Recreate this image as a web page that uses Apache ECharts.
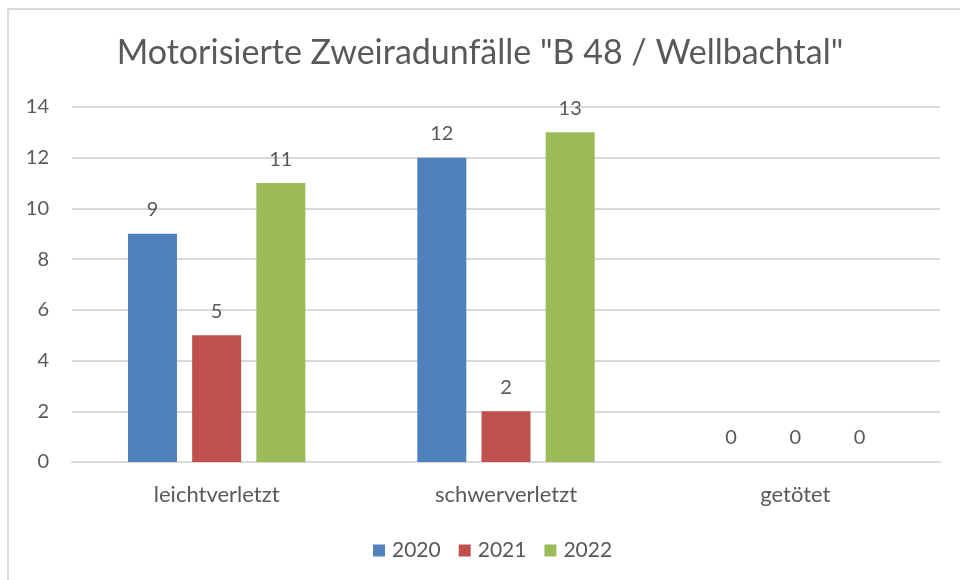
<!DOCTYPE html>
<html>
<head>
<meta charset="utf-8">
<script src="https://cdn.jsdelivr.net/npm/echarts@6/dist/echarts.min.js"></script>
<style>
  html, body { margin: 0; padding: 0; background: #fff; }
  #frame { position: absolute; left: 7px; top: 8px; width: 953px; height: 572px;
           border-top: 2px solid #d9d9d9; border-left: 2px solid #d9d9d9; box-sizing: border-box; }
  #chart { position: absolute; left: 0; top: 0; width: 960px; height: 580px; }
</style>
</head>
<body>
<div id="frame"></div>
<div id="chart"></div>
<script>
const titleText = 'Motorisierte Zweiradunfälle "B 48 / Wellbachtal"';
const categories = ['leichtverletzt', 'schwerverletzt', 'getötet'];
const years = ['2020', '2021', '2022'];
const values2020 = [9, 12, 0];
const values2021 = [5, 2, 0];
const values2022 = [11, 13, 0];
const colors = ['#4f81bd', '#c0504d', '#9bbb59'];

const font = 'Lato, "Open Sans", sans-serif';
const textColor = '#595959';

const seriesValues = [values2020, values2021, values2022];

const chart = echarts.init(document.getElementById('chart'));
chart.setOption({
  animation: false,
  title: {
    text: titleText,
    left: 'center',
    top: 31,
    textStyle: { fontFamily: font, fontSize: 34, fontWeight: 'normal', color: textColor }
  },
  legend: {
    data: years,
    top: 535,
    left: 368,
    itemWidth: 12,
    itemHeight: 12,
    itemGap: 18,
    icon: 'rect',
    textStyle: { fontFamily: font, fontSize: 21, color: textColor, padding: [0, 0, 0, 2] }
  },
  grid: { left: 72, right: 20, top: 107, bottom: 118, containLabel: false },
  xAxis: {
    type: 'category',
    data: categories,
    axisLine: { lineStyle: { color: '#d9d9d9', width: 2 } },
    axisTick: { show: false },
    axisLabel: { fontFamily: font, fontSize: 22, color: textColor, margin: 22 }
  },
  yAxis: {
    type: 'value',
    min: 0,
    max: 14,
    interval: 2,
    axisLine: { show: false },
    axisTick: { show: false },
    splitLine: { lineStyle: { color: '#d9d9d9', width: 2 } },
    axisLabel: { fontFamily: font, fontSize: 20, color: textColor, margin: 23 }
  },
  series: years.map((y, i) => ({
    name: y,
    type: 'bar',
    data: seriesValues[i],
    barWidth: 49,
    barGap: '31%',
    itemStyle: { color: colors[i] },
    label: {
      show: true,
      position: 'top',
      distance: 14,
      fontFamily: font,
      fontSize: 20,
      color: textColor
    }
  }))
});
</script>
</body>
</html>
